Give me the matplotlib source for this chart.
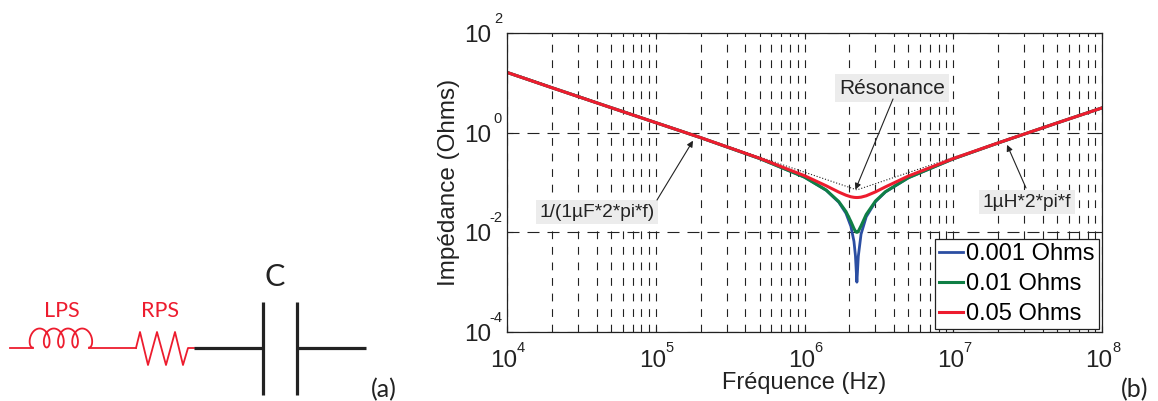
import numpy as np
import matplotlib
matplotlib.use('Agg')
import matplotlib.pyplot as plt
from matplotlib.ticker import LogLocator, NullFormatter, NullLocator, FixedLocator

freq = [1e4, 2e4, 5e4, 1e5, 2e5, 5e5, 1e6, 1.4e6, 1.7e6, 1.9e6, 2.05e6, 2.15e6, 2.2e6, 2.23e6,
        2.25e6, 2.27e6, 2.3e6, 2.4e6, 2.6e6, 3e6, 3.5e6, 5e6, 1e7, 2e7, 5e7, 1e8]
z_001 = [16.2, 8.0, 3.18, 1.59, 0.795, 0.302, 0.128, 0.0697, 0.0402, 0.0241, 0.0132, 0.0066, 0.0034, 0.0016,
         0.001, 0.0016, 0.0033, 0.0092, 0.0205, 0.0412, 0.0645, 0.125, 0.298, 0.62, 1.57, 3.14]
z_01 = [16.2, 8.0, 3.18, 1.59, 0.795, 0.302, 0.128, 0.0704, 0.0414, 0.0261, 0.0165, 0.0119, 0.0105, 0.0101,
        0.01, 0.0101, 0.0105, 0.0135, 0.0228, 0.0424, 0.0653, 0.125, 0.298, 0.62, 1.57, 3.14]
z_05 = [16.2, 8.0, 3.18, 1.59, 0.797, 0.306, 0.137, 0.0858, 0.0642, 0.0556, 0.0517, 0.0504, 0.0501, 0.05,
        0.05, 0.05, 0.0501, 0.0508, 0.0541, 0.0648, 0.0816, 0.135, 0.302, 0.622, 1.57, 3.14]
asym_f = [1e4, 2.25e6, 1e8]
asym_z = [16.9, 0.071, 3.2]

series_labels = ['0.001 Ohms', '0.01 Ohms', '0.05 Ohms']
series_colors = ['#2b4ea2', '#0f7f45', '#ed1c2e']

xticks = [1e4, 1e5, 1e6, 1e7, 1e8]
xexp = ['4', '5', '6', '7', '8']
yticks = [1e2, 1e0, 1e-2, 1e-4]
yexp = ['2', '0', '-2', '-4']

# resistor of the circuit, in image pixels
res_x = [136, 140, 148, 157, 166, 175, 183, 188, 194]
res_y = [348, 332, 365, 332, 365, 332, 365, 348, 348]

plt.rcParams['font.family'] = ['Liberation Sans', 'DejaVu Sans']

W, H = 1158, 401
INK = '#222222'
RED = '#ed1c2e'


def px(x, y):
    return x / W, 1 - y / H


fig = plt.figure(figsize=(W / 100, H / 100), dpi=100)

# overlay in pixels for the circuit
bg = fig.add_axes([0, 0, 1, 1])
bg.set_xlim(0, W)
bg.set_ylim(H, 0)
bg.axis('off')
t = np.linspace(-np.pi, 7 * np.pi, 400)
coil_x = 39.6 + 14.2 * t / (2 * np.pi) + 6 * np.sin(t)
coil_y = 338 - 9.5 * np.cos(t)
bg.plot([10, coil_x[0]], [348, 348], color=RED, lw=1.3)
bg.plot(coil_x, coil_y, color=RED, lw=1.3)
bg.plot([coil_x[-1], 136], [348, 348], color=RED, lw=1.3)
bg.plot(res_x, res_y, color=RED, lw=1.3)
bg.plot([194, 262], [348, 348], color=INK, lw=2.3, solid_capstyle='butt')
bg.plot([298, 366], [348, 348], color=INK, lw=2.3, solid_capstyle='butt')
bg.plot([263, 263], [302, 395], color=INK, lw=2.3, solid_capstyle='butt')
bg.plot([297, 297], [302, 395], color=INK, lw=2.3, solid_capstyle='butt')
bg.text(62, 311, 'LPS', color=RED, fontsize=15.5, family='Lato', ha='center', va='center')
bg.text(160, 311, 'RPS', color=RED, fontsize=15.5, family='Lato', ha='center', va='center')
bg.text(275, 277, 'C', color=INK, fontsize=22, family='Lato', ha='center', va='center')
bg.text(384, 390, '(a)', color=INK, fontsize=18, family='Lato', ha='center', va='center')
bg.text(1135, 390, '(b)', color=INK, fontsize=18, family='Lato', ha='center', va='center')

ax = fig.add_axes([507 / W, 1 - 332 / H, 595 / W, 299 / H])
ax.set_xscale('log')
ax.set_yscale('log')
ax.set_xlim(1e4, 1e8)
ax.set_ylim(1e-4, 1e2)

ax.plot(asym_f, asym_z, color=INK, lw=0.8, ls=':')
ax.plot(freq, z_001, color=series_colors[0], lw=2.0, label=series_labels[0])
ax.plot(freq, z_01, color=series_colors[1], lw=2.2, label=series_labels[1])
ax.plot(freq, z_05, color=series_colors[2], lw=2.2, label=series_labels[2])

ax.xaxis.set_major_locator(FixedLocator(xticks))
ax.yaxis.set_major_locator(FixedLocator(yticks))
ax.xaxis.set_minor_locator(LogLocator(base=10, subs=np.arange(2, 10), numticks=12))
ax.xaxis.set_minor_formatter(NullFormatter())
ax.yaxis.set_minor_locator(NullLocator())
ax.set_xticklabels([])
ax.set_yticklabels([])
ax.xaxis.grid(True, which='both', color=INK, ls=(0, (7, 7)), lw=0.8)
ax.yaxis.grid(True, which='major', color=INK, ls=(0, (10.8, 7.2)), lw=0.8)
ax.tick_params(which='both', direction='in', color=INK, length=4, top=True, right=True)
ax.tick_params(which='minor', length=2)
for s in ax.spines.values():
    s.set_linewidth(0.9)
    s.set_color(INK)

# tick labels: base and exponent sit apart, further than mathtext puts them
for v, e in zip(xticks, xexp):
    ax.annotate('10', xy=(v, 0), xycoords=('data', 'axes fraction'), xytext=(-3, -35), textcoords='offset pixels',
                ha='center', va='baseline', fontsize=17.5, color=INK, annotation_clip=False)
    ax.annotate(e, xy=(v, 0), xycoords=('data', 'axes fraction'), xytext=(10, -20), textcoords='offset pixels',
                ha='left', va='baseline', fontsize=10.5, color=INK, annotation_clip=False)
for v, e in zip(yticks, yexp):
    ax.annotate('10', xy=(0, v), xycoords=('axes fraction', 'data'), xytext=(-43, -9), textcoords='offset pixels',
                ha='left', va='baseline', fontsize=17.5, color=INK, annotation_clip=False)
    ax.annotate(e, xy=(0, v), xycoords=('axes fraction', 'data'), xytext=(-5, 10), textcoords='offset pixels',
                ha='right', va='baseline', fontsize=10.5, color=INK, annotation_clip=False)

ax.set_xlabel('Fréquence (Hz)', fontsize=17, color=INK)
ax.set_ylabel('Impédance (Ohms)', fontsize=17.5, color=INK)
ax.xaxis.set_label_coords(0.5, -51 / 299, transform=ax.transAxes)
ax.xaxis.label.set_va('center')
ax.yaxis.set_label_coords(-58 / 595, 0.5, transform=ax.transAxes)
ax.yaxis.label.set_va('center')

leg = ax.legend(loc='lower right', bbox_to_anchor=(1.0 - 3 / 595, 3 / 299), fontsize=17, fancybox=False, framealpha=1,
                edgecolor=INK, borderaxespad=0, handlelength=1.0, handletextpad=0.15, borderpad=0.17, labelspacing=0.33)
leg.get_frame().set_linewidth(0.9)

box = dict(boxstyle='square,pad=0.2', fc='#ececec', ec='none')
arrow = dict(arrowstyle='-|>', color=INK, lw=0.8, mutation_scale=9, shrinkA=0, shrinkB=0)
ax.text(*px(892, 88), 'Résonance', transform=fig.transFigure, ha='center', va='center', fontsize=15, color=INK, bbox=box)
ax.text(*px(1027, 202), '1µH*2*pi*f', transform=fig.transFigure, ha='center', va='center', fontsize=13.8, color=INK, bbox=box)
ax.text(*px(597, 212), '1/(1µF*2*pi*f)', transform=fig.transFigure, ha='center', va='center', fontsize=13.8, color=INK, bbox=box)
ax.annotate('', xy=(2.2e6, 0.072), xycoords='data', xytext=px(893, 99), textcoords='figure fraction', arrowprops=arrow)
ax.annotate('', xy=(2.3e7, 0.57), xycoords='data', xytext=px(1026, 188), textcoords='figure fraction', arrowprops=arrow)
ax.annotate('', xy=(1.78e5, 0.69), xycoords='data', xytext=px(657, 200), textcoords='figure fraction', arrowprops=arrow)

fig.savefig('out.png', dpi=100)
